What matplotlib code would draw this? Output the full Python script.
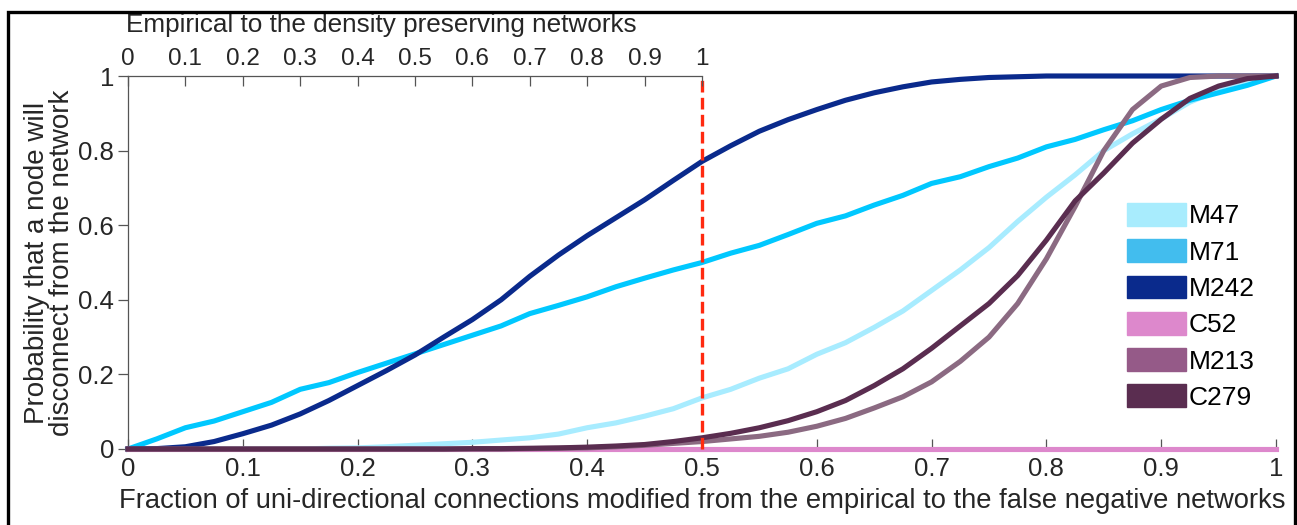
import numpy as np
import matplotlib
matplotlib.use("Agg")
import matplotlib.pyplot as plt
from matplotlib.patches import Patch, Rectangle

plt.rcParams['font.family'] = ['Liberation Sans', 'DejaVu Sans']

# fraction of uni-directional connections modified (read every 0.025)
frac = [i / 40 for i in range(41)]

m47 = [0, 0, 0, 0, 0, 0, 0, 0.002, 0.003, 0.006,
       0.01, 0.014, 0.018, 0.024, 0.03, 0.04, 0.057, 0.07, 0.088, 0.108,
       0.137, 0.16, 0.19, 0.215, 0.254, 0.285, 0.326, 0.37, 0.425, 0.48,
       0.54, 0.61, 0.675, 0.735, 0.80, 0.845, 0.885, 0.93, 0.962, 0.98, 1.0]
m71 = [0, 0.027, 0.057, 0.075, 0.10, 0.125, 0.16, 0.178, 0.205, 0.23,
       0.255, 0.28, 0.305, 0.33, 0.363, 0.385, 0.408, 0.435, 0.458, 0.48,
       0.50, 0.525, 0.546, 0.575, 0.605, 0.625, 0.654, 0.68, 0.712, 0.73,
       0.757, 0.78, 0.81, 0.83, 0.856, 0.88, 0.91, 0.935, 0.955, 0.975, 1.0]
m242 = [0, 0.001, 0.006, 0.02, 0.041, 0.064, 0.094, 0.13, 0.17, 0.21,
        0.252, 0.30, 0.347, 0.40, 0.463, 0.52, 0.572, 0.62, 0.668, 0.72,
        0.771, 0.813, 0.852, 0.883, 0.91, 0.935, 0.955, 0.971, 0.984, 0.991,
        0.996, 0.998, 1.0, 1.0, 1.0, 1.0, 1.0, 1.0, 1.0, 1.0, 1.0]
c52 = [0.0] * 41
m213 = [0, 0, 0, 0, 0, 0, 0, 0, 0, 0,
        0, 0, 0, 0, 0.001, 0.002, 0.003, 0.006, 0.01, 0.015,
        0.02, 0.027, 0.034, 0.045, 0.061, 0.082, 0.11, 0.14, 0.18, 0.235,
        0.30, 0.39, 0.51, 0.65, 0.80, 0.91, 0.973, 0.996, 1.0, 1.0, 1.0]
c279 = [0, 0, 0, 0, 0, 0, 0, 0, 0, 0,
        0, 0, 0.001, 0.001, 0.002, 0.003, 0.005, 0.008, 0.012, 0.02,
        0.03, 0.042, 0.057, 0.076, 0.10, 0.13, 0.17, 0.215, 0.27, 0.33,
        0.39, 0.465, 0.56, 0.665, 0.74, 0.82, 0.884, 0.94, 0.973, 0.993, 1.0]

names = ["M47", "M71", "M242", "C52", "M213", "C279"]
line_colors = ["#a8ecff", "#00c8ff", "#0a2a8c", "#dd88cc", "#8b6a82", "#5a2d50"]
patch_colors = ["#a8ecfd", "#42bdee", "#0a2a8c", "#dd88cc", "#955a88", "#5a2d50"]

top_ticks = [0, 0.1, 0.2, 0.3, 0.4, 0.5, 0.6, 0.7, 0.8, 0.9, 1]
bottom_ticks = [0, 0.1, 0.2, 0.3, 0.4, 0.5, 0.6, 0.7, 0.8, 0.9, 1]
y_ticks = [0, 0.2, 0.4, 0.6, 0.8, 1]


def fmt(v):
    return "{:g}".format(v)


fig = plt.figure(figsize=(12.97, 5.25), dpi=100)
ax = fig.add_axes([128 / 1297, 1 - 449 / 525, 1148 / 1297, 373 / 525])

# lines sit above the spines, like the original export
for vals, col in zip([m47, m71, m242, c52, m213, c279], line_colors):
    ax.plot(frac, vals, color=col, lw=3.7, clip_on=False, solid_joinstyle='round', zorder=3)

ax.plot([0.5, 0.5], [0, 1], color="#ff2a10", lw=2.4, ls=(0, (3.5, 1.6)), clip_on=False, zorder=5)

ax.set_xlim(0, 1)
ax.set_ylim(0, 1)
grey = "#555555"
txt = "#262626"
for s in ["top", "right"]:
    ax.spines[s].set_visible(False)
for s in ["left", "bottom"]:
    ax.spines[s].set_color(grey)
    ax.spines[s].set_linewidth(0.9)
ax.set_xticks(bottom_ticks)
ax.set_xticklabels([fmt(v) for v in bottom_ticks])
ax.set_yticks(y_ticks)
ax.set_yticklabels([fmt(v) for v in y_ticks])
ax.tick_params(axis='x', direction='in', length=7, width=0.9, color=grey,
               labelsize=18.5, labelcolor=txt, pad=6)
ax.tick_params(axis='y', direction='out', length=7, width=0.9, color=grey,
               labelsize=18.5, labelcolor=txt, pad=3)
ax.set_xlabel("Fraction of uni-directional connections modified from the empirical to the false negative networks",
              fontsize=19.7, color=txt, labelpad=5)
ax.set_ylabel("Probability that a node will\ndisconnect from the network",
              fontsize=20, color=txt, linespacing=0.95)
ax.yaxis.set_label_coords(-0.046, 0.5)

ax2 = ax.twiny()
ax2.set_xlim(0, 2)
for s in ["bottom", "left", "right"]:
    ax2.spines[s].set_visible(False)
ax2.spines["top"].set_bounds(0, 1)
ax2.spines["top"].set_color(grey)
ax2.spines["top"].set_linewidth(0.9)
ax2.set_xticks(top_ticks)
ax2.set_xticklabels([fmt(v) for v in top_ticks])
ax2.tick_params(axis='x', direction='in', length=7, width=0.9, color=grey,
                labelsize=17.5, labelcolor=txt, pad=4)
ax2.set_xlabel("Empirical to the density preserving networks", fontsize=18.8, color=txt)
ax2.xaxis.set_label_coords(0.221, 1.118)

handles = [Patch(facecolor=c, edgecolor=c) for c in patch_colors]
ax.legend(handles, names, loc="upper left", bbox_to_anchor=(1127 / 1297, 1 - 203 / 525),
          bbox_transform=fig.transFigure, frameon=False, fontsize=19,
          handlelength=2.25, handleheight=0.95, handletextpad=0.1,
          labelspacing=0.41, borderpad=0, borderaxespad=0)

fig.patches.append(Rectangle((8 / 1297, -0.05), 1287 / 1297, 1 - 12 / 525 + 0.05,
                             transform=fig.transFigure, fill=False,
                             edgecolor="black", lw=2.4, clip_on=False))

fig.savefig("out.png", dpi=100)
